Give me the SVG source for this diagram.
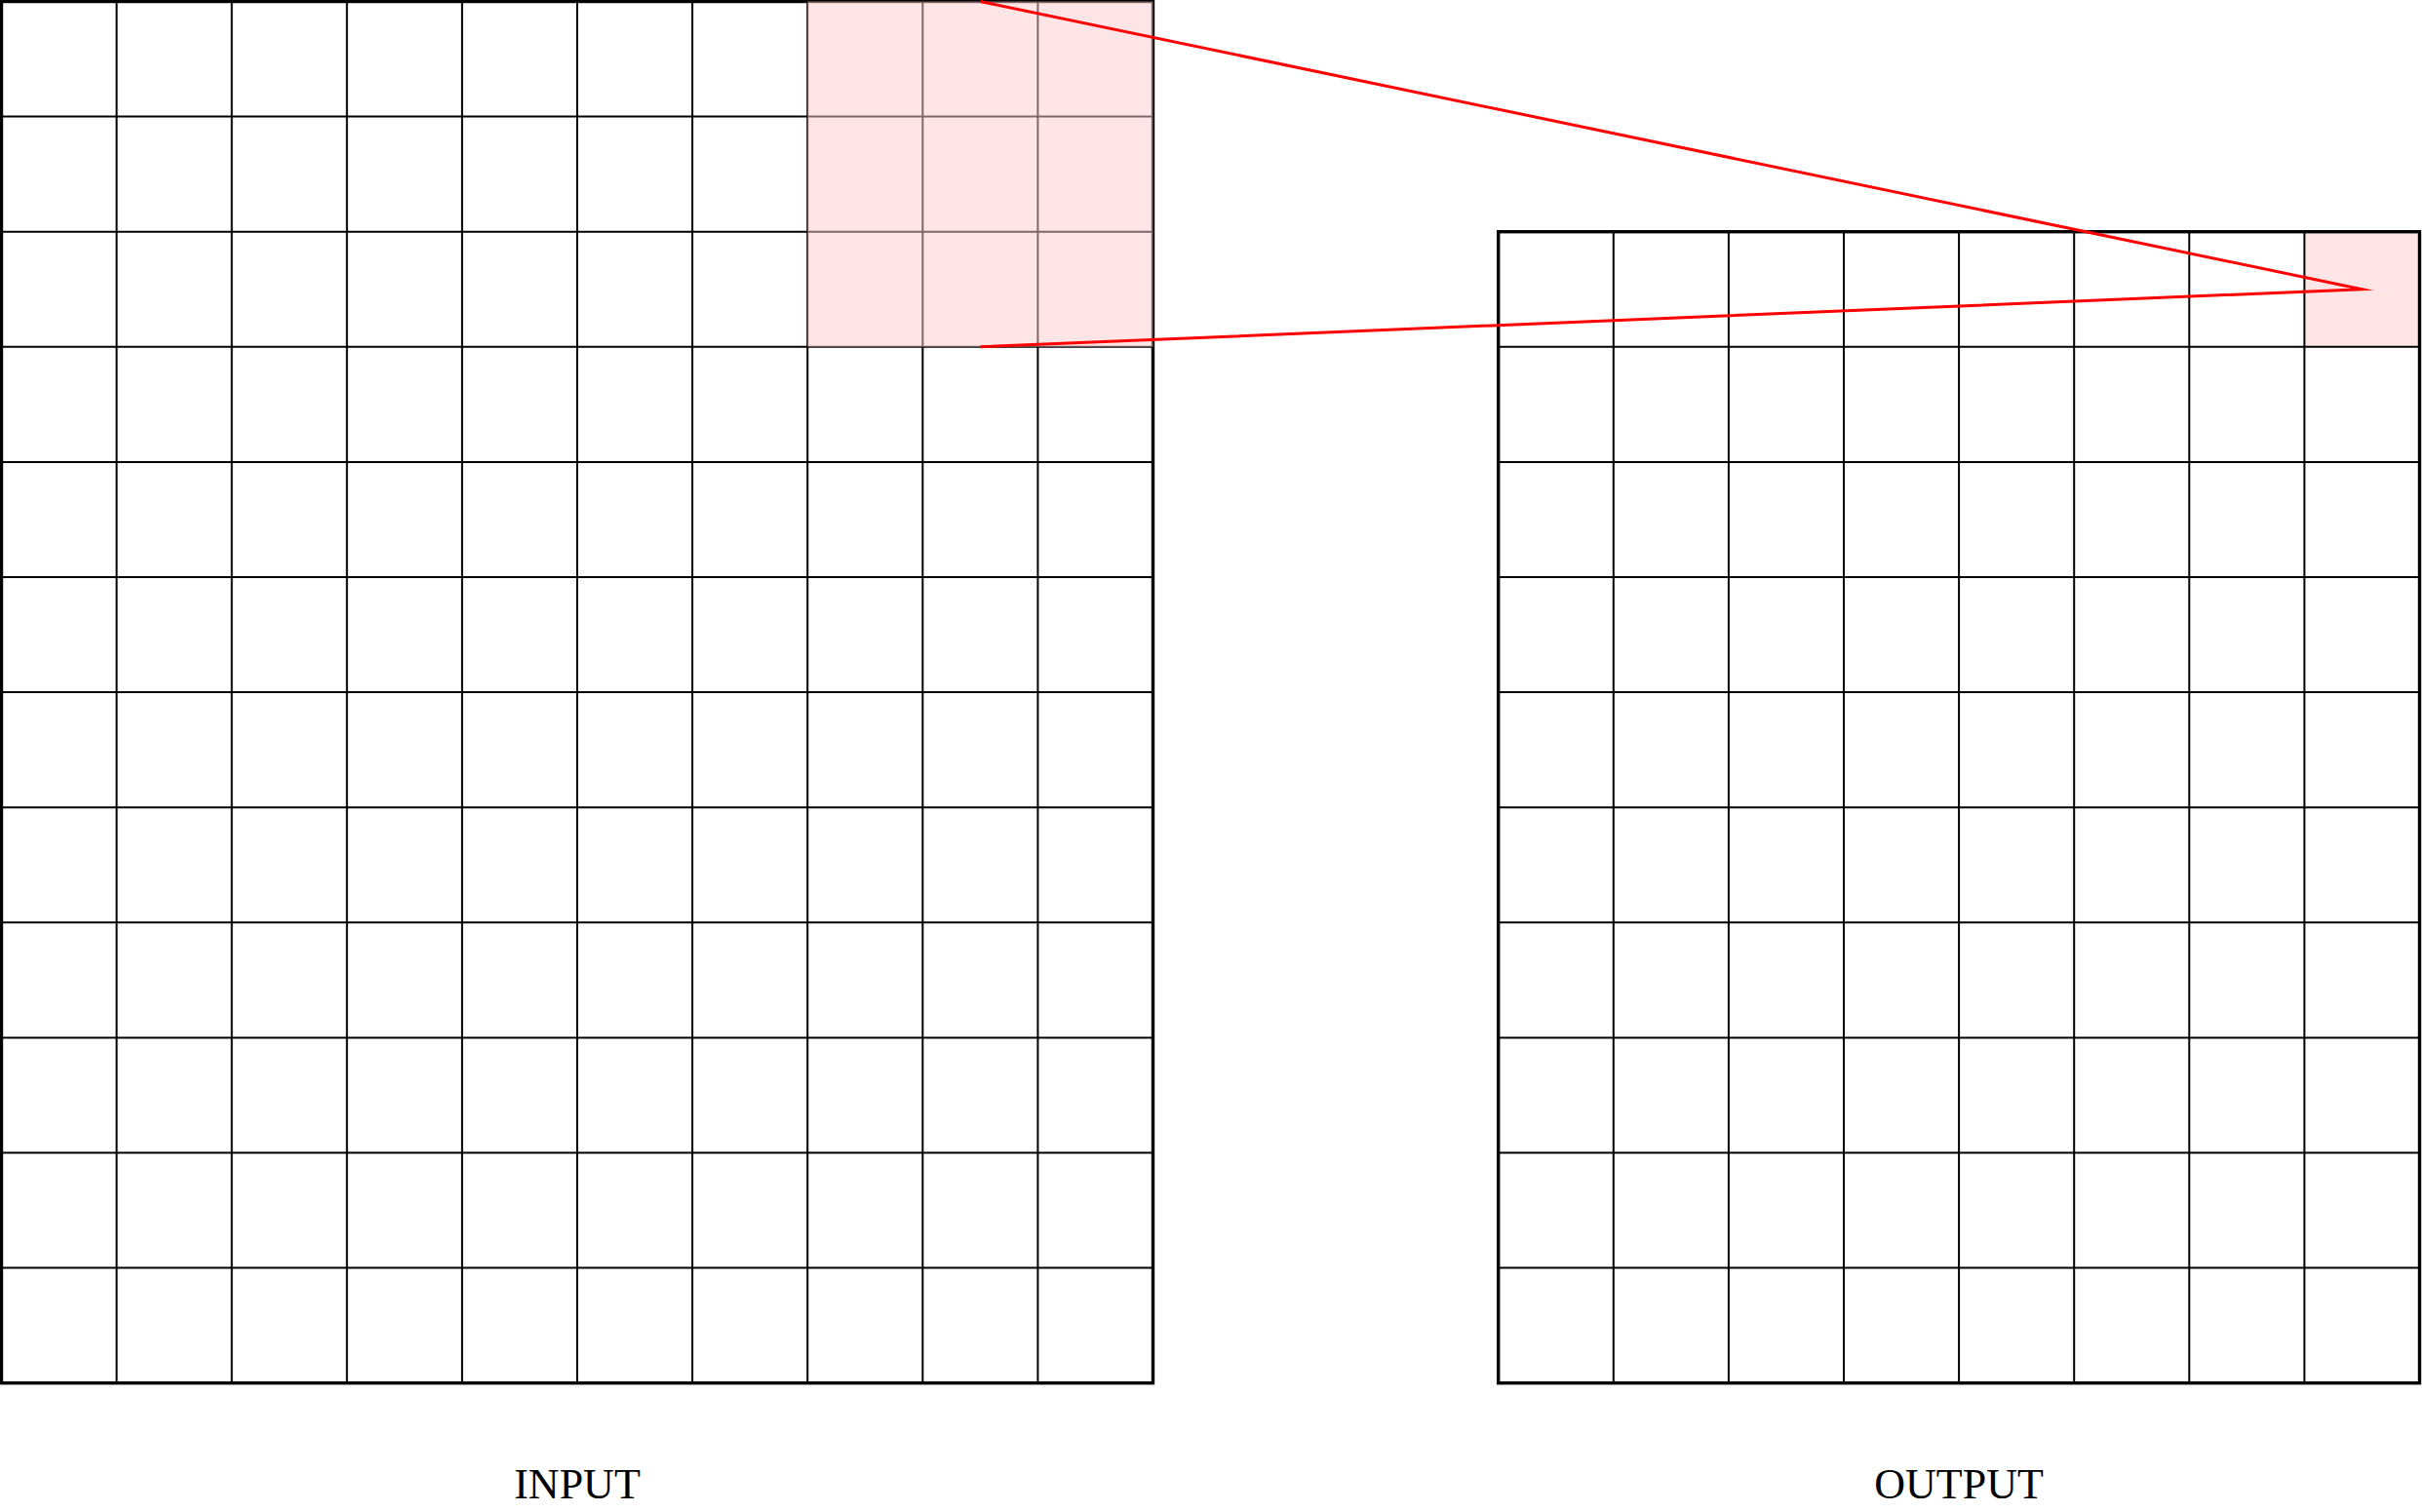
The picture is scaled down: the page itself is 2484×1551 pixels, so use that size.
<svg xmlns="http://www.w3.org/2000/svg" width="2484" height="1551" viewBox="0 0 2484 1551">
<style>
.bg{fill:#ffffff}
.grid{fill:none;stroke:#000;stroke-width:2}
.border{fill:none;stroke:#000;stroke-width:3.4}
.hl{fill:#ffcccc;fill-opacity:0.5;stroke:none}
.hl2{fill:#ffe5e5;stroke:none}
.lbl{font-family:"Liberation Serif","Times New Roman",serif;font-size:44px;fill:#000;text-anchor:middle}
.conn{fill:none;stroke:#ff0000;stroke-width:3;stroke-linejoin:miter;stroke-miterlimit:10}
</style>
<rect class="bg" x="0" y="0" width="2484" height="1551"/>
<g id="output">
<rect class="hl2" x="2363.4" y="237.7" width="118.1" height="118.1"/>
<path class="grid" d="M1654.8,237.7V1418.7M1772.9,237.7V1418.7M1891,237.7V1418.7M2009.1,237.7V1418.7M2127.2,237.7V1418.7M2245.3,237.7V1418.7M2363.4,237.7V1418.7
M1536.7,355.8H2481.5M1536.7,473.9H2481.5M1536.7,592H2481.5M1536.7,710.1H2481.5M1536.7,828.2H2481.5M1536.7,946.3H2481.5M1536.7,1064.4H2481.5M1536.7,1182.5H2481.5M1536.7,1300.6H2481.5"/>
<rect class="border" x="1536.7" y="237.7" width="944.8" height="1181"/>
<text class="lbl" x="2009.1" y="1537">OUTPUT</text>
</g>
<g id="input">
<path class="grid" d="M119.6,1.5V1418.7M237.7,1.5V1418.7M355.8,1.5V1418.7M473.9,1.5V1418.7M592,1.5V1418.7M710.1,1.5V1418.7M828.2,1.5V1418.7M946.3,1.5V1418.7M1064.4,1.5V1418.7
M1.5,119.6H1182.5M1.5,237.7H1182.5M1.5,355.8H1182.5M1.5,473.9H1182.5M1.5,592H1182.5M1.5,710.1H1182.5M1.5,828.2H1182.5M1.5,946.3H1182.5M1.5,1064.4H1182.5M1.5,1182.5H1182.5M1.5,1300.6H1182.5"/>
<rect class="border" x="1.5" y="1.5" width="1181" height="1417.2"/>
<rect class="hl" x="828.2" y="1.5" width="354.3" height="354.3"/>
<text class="lbl" x="592" y="1537">INPUT</text>
</g>
<g id="connectors">
<path class="conn" d="M1005.35,1.5L2422.45,296.75L1005.35,355.8"/>
</g>
</svg>
